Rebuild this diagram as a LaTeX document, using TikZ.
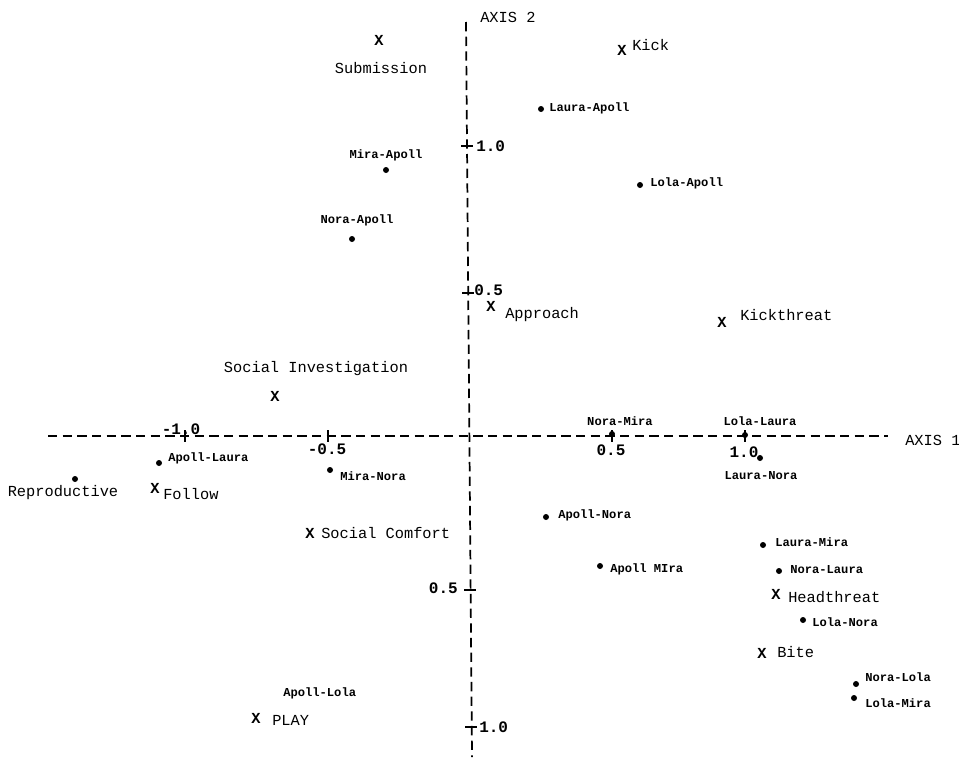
\documentclass[tikz,border=0pt]{standalone}
\usepackage{fontspec}
\setmonofont{Liberation Mono}
\begin{document}
\begin{tikzpicture}[x=0.75pt,y=-0.75pt,
  axisline/.style={line width=1.3pt,dash pattern=on 7pt off 4pt},
  tickline/.style={line width=1.3pt},
  big/.style={font=\ttfamily\fontsize{11.5}{13}\selectfont,inner sep=0pt},
  small/.style={font=\ttfamily\bfseries\fontsize{9.1}{11}\selectfont,inner sep=0pt},
  ticklab/.style={font=\ttfamily\bfseries\fontsize{12}{14}\selectfont,inner sep=0pt},
  xmark/.style={font=\ttfamily\bfseries\fontsize{11.5}{13}\selectfont,inner sep=0pt},
  pt/.style={circle,fill=black,inner sep=0pt,minimum size=4.5pt}]
\useasboundingbox (0,0) rectangle (959,757);
% axes
\coordinate (a1s) at (48,436);
\coordinate (a1e) at (888,436);
\coordinate (a2s) at (466,22);
\coordinate (a2e) at (472,757);
\draw[axisline] (a1s) -- (a1e);
\draw[axisline] (a2s) -- (a2e);
\node[big,anchor=west] (ax1) at (905,440) {AXIS 1};
\node[big,anchor=west] (ax2) at (480,17) {AXIS 2};
% horizontal ticks
\foreach \n/\xx in {hm1/185,hm05/328,hp05/612,hp1/745}{
  \coordinate (\n a) at (\xx,430);
  \coordinate (\n b) at (\xx,442);
  \draw[tickline] (\n a) -- (\n b);
}
\node[ticklab] (lhm1) at (181,429) {-1.0};
\node[ticklab] (lhm05) at (327,449) {-0.5};
\node[ticklab] (lhp05) at (611,450) {0.5};
\node[ticklab] (lhp1) at (744,452) {1.0};
% vertical ticks
\foreach \n/\xx/\yy in {vp1/467/146,vp05/468/293,vm05/470/590,vm1/471/727}{
  \coordinate (\n a) at ({\xx-6},\yy);
  \coordinate (\n b) at ({\xx+6},\yy);
  \draw[tickline] (\n a) -- (\n b);
}
\node[ticklab,anchor=west] (lvp1) at (476,146) {1.0};
\node[ticklab,anchor=west] (lvp05) at (474,290) {0.5};
\node[ticklab,anchor=east] (lvm05) at (458,588) {0.5};
\node[ticklab,anchor=west] (lvm1) at (479,727) {1.0};
% behaviours (X marks)
\node[xmark] (xsub) at (379,40) {X};
\node[big] (lsub) at (381,68) {Submission};
\node[xmark] (xkick) at (622,50) {X};
\node[big,anchor=west] (lkick) at (632,45) {Kick};
\node[xmark] (xapp) at (491,306) {X};
\node[big,anchor=west] (lapp) at (505,315) {Approach};
\node[xmark] (xkt) at (722,322) {X};
\node[big,anchor=west] (lkt) at (740,315) {Kickthreat};
\node[big] (lsi) at (316,369) {Social Investigation};
\node[xmark] (xsi) at (275,396) {X};
\node[xmark] (xfol) at (155,488) {X};
\node[big,anchor=west] (lfol) at (163,494) {Follow};
\node[xmark] (xsc) at (310,533) {X};
\node[big,anchor=west] (lsc) at (321,533) {Social Comfort};
\node[xmark] (xht) at (776,594) {X};
\node[big,anchor=west] (lht) at (788,597) {Headthreat};
\node[xmark] (xbite) at (762,653) {X};
\node[big,anchor=west] (lbite) at (777,652) {Bite};
\node[xmark] (xplay) at (256,718) {X};
\node[big,anchor=west] (lplay) at (272,720) {PLAY};
% dyads (dots)
\node[pt] (dla) at (541,109) {};
\node[small,anchor=west] (lla) at (549,108) {Laura-Apoll};
\node[pt] (dma) at (386,170) {};
\node[small] (lma) at (386,155) {Mira-Apoll};
\node[pt] (dloa) at (640,185) {};
\node[small,anchor=west] (lloa) at (650,183) {Lola-Apoll};
\node[pt] (dna) at (352,239) {};
\node[small] (lna) at (357,220) {Nora-Apoll};
\node[pt] (dnm) at (612,434) {};
\node[small] (lnm) at (620,421) {Nora-Mira};
\node[pt] (dll) at (745,435) {};
\node[small] (lll) at (760,421) {Lola-Laura};
\node[pt] (dln) at (760,458) {};
\node[small] (lln) at (761,476) {Laura-Nora};
\node[pt] (dal) at (159,463) {};
\node[small,anchor=west] (lal) at (168,458) {Apoll-Laura};
\node[pt] (drep) at (75,479) {};
\node[big] (lrep) at (63,493) {Reproductive};
\node[pt] (dmn) at (330,470) {};
\node[small,anchor=west] (lmn) at (340,476) {Mira-Nora};
\node[pt] (dan) at (546,517) {};
\node[small,anchor=west] (lan) at (558,515) {Apoll-Nora};
\node[pt] (dam) at (600,566) {};
\node[small,anchor=west] (lam) at (610,569) {Apoll MIra};
\node[pt] (dlm) at (763,545) {};
\node[small,anchor=west] (llm) at (775,542) {Laura-Mira};
\node[pt] (dnl) at (779,571) {};
\node[small,anchor=west] (lnl) at (790,570) {Nora-Laura};
\node[pt] (dlon) at (803,620) {};
\node[small,anchor=west] (llon) at (812,622) {Lola-Nora};
\node[pt] (dnol) at (856,684) {};
\node[small,anchor=west] (lnol) at (865,677) {Nora-Lola};
\node[pt] (dlom) at (854,698) {};
\node[small,anchor=west] (llom) at (865,703) {Lola-Mira};
\node[small,anchor=west] (lalo) at (283,693) {Apoll-Lola};
\end{tikzpicture}
\end{document}
